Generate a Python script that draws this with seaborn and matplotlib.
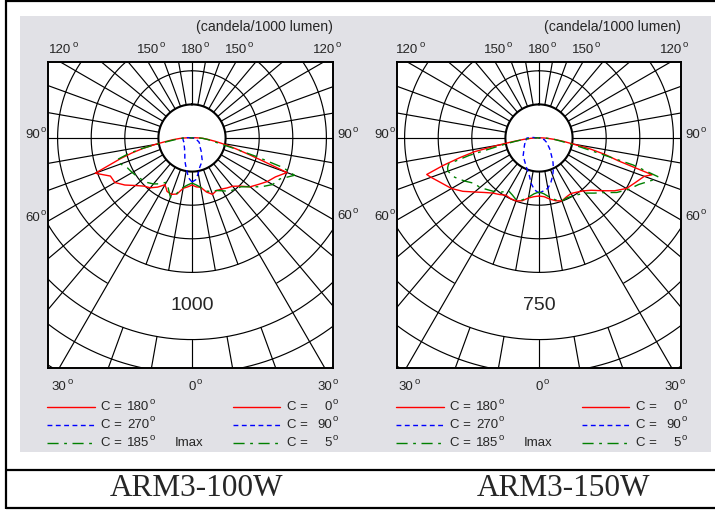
import numpy as np
import pandas as pd
import matplotlib
matplotlib.use("Agg")
import matplotlib.pyplot as plt
import seaborn as sns

# ---------------- data (candela / 1000 lumen) ----------------
gamma = [0, 5, 10, 15, 20, 25, 30, 35, 40, 45, 50, 55, 60, 65, 70,
         72, 74, 76, 78, 80, 82, 85, 88, 90, 95, 180]

# ARM3-100W
c180_100 = [280, 292, 304, 345, 357, 351, 321, 357, 387, 405, 440, 488, 530, 536, 613,
            512, 440, 369, 298, 226, 167, 113, 71, 48, 18, 0]
c0_100 = [280, 292, 298, 333, 357, 345, 351, 363, 375, 405, 452, 482, 518, 548, 601,
          446, 345, 274, 220, 173, 137, 95, 65, 48, 18, 0]
c185_100 = [268, 280, 298, 339, 375, 333, 304, 333, 357, 375, 387, 399, 411, 423, 452,
            464, 458, 393, 310, 214, 143, 95, 65, 42, 18, 0]
c5_100 = [268, 280, 298, 327, 339, 345, 363, 387, 399, 411, 452, 506, 554, 577, 649,
          571, 393, 262, 179, 143, 119, 89, 65, 42, 18, 0]
c270_100 = [262, 238, 190, 155, 125, 101, 89, 77, 71, 65, 60, 54, 54, 54, 54,
            54, 54, 54, 54, 54, 54, 54, 54, 54, 24, 0]
c90_100 = [262, 250, 214, 179, 161, 143, 113, 95, 77, 65, 60, 54, 48, 36, 30,
           24, 24, 18, 18, 18, 12, 12, 12, 12, 6, 0]

# ARM3-150W
c180_150 = [259, 263, 272, 290, 299, 299, 295, 308, 321, 344, 375, 415, 451, 478, 513,
            527, 446, 366, 295, 187, 121, 67, 36, 22, 9, 0]
c0_150 = [259, 263, 277, 290, 299, 290, 286, 295, 308, 330, 366, 411, 451, 473, 500,
          531, 366, 304, 232, 152, 112, 67, 36, 22, 9, 0]
c185_150 = [241, 250, 268, 286, 295, 281, 272, 295, 312, 326, 344, 353, 384, 415, 433,
            429, 420, 321, 205, 147, 107, 67, 36, 22, 9, 0]
c5_150 = [241, 250, 268, 286, 299, 295, 299, 308, 321, 348, 379, 424, 460, 491, 545,
          558, 437, 259, 179, 125, 98, 67, 36, 22, 9, 0]
c270_150 = [246, 232, 205, 170, 152, 138, 125, 116, 112, 98, 89, 80, 76, 71, 67,
            67, 67, 62, 62, 62, 58, 58, 54, 54, 27, 0]
c90_150 = [246, 237, 228, 205, 179, 152, 125, 98, 80, 67, 54, 49, 40, 31, 27,
           22, 22, 18, 18, 18, 13, 13, 13, 13, 4, 0]

scale_labels = ["1000", "750"]          # value of the 5th circle
titles = ["ARM3-100W", "ARM3-150W"]
top_angles = [120, 150, 180]
side_angles = [90, 60]
bottom_angles = [30, 0]
legend_left = [("180", "solid"), ("270", "blue"), ("185", "green")]
legend_right = [("0", "solid"), ("90", "blue"), ("5", "green")]

# ---------------- style ----------------
sns.set_style("white")
plt.rcParams['font.family'] = ['Liberation Sans', 'DejaVu Sans']
GRAY = '#E1E1E6'
RED, BLUE, GREEN = '#FF0000', '#0000FF', '#008000'
STY = {"solid": dict(color=RED, linestyle='-'),
       "blue": dict(color=BLUE, linestyle=(0, (3.5, 2.5))),
       "green": dict(color=GREEN, linestyle=(0, (8, 4, 2, 4)))}
FS = 9.5

W, H = 715, 513
PX = 33.6   # pixels per circle step
fig = plt.figure(figsize=(W / 100, H / 100), dpi=100)

bg = fig.add_axes([0, 0, 1, 1])
bg.set_xlim(0, W)
bg.set_ylim(H, 0)
bg.axis('off')
bg.add_patch(plt.Rectangle((20, 16), 691, 436, facecolor=GRAY, edgecolor='none'))
for xs, ys in [([6, 6], [0, 509]), ([6, W], [1, 1]), ([6, W], [470, 470]), ([6, W], [508, 508])]:
    bg.plot(xs, ys, color='k', lw=1.6, solid_capstyle='butt')


def deg(ax, x, y, num, align, dx=0.0, dy=0.0, fs=FS):
    w = len(num) * 0.556 * fs
    ow = 0.556 * fs * 0.7 + 0.8
    if align == 'center':
        left = dx - w / 2
    elif align == 'right':
        left = dx - w - ow
    elif align == 'numright':
        left = dx - w
    else:
        left = dx
    ax.annotate(num, (x, y), xytext=(left, dy), textcoords='offset points',
                ha='left', va='center', fontsize=fs, annotation_clip=False)
    ax.annotate('o', (x, y), xytext=(left + w + 0.6, dy + 4.0), textcoords='offset points',
                ha='left', va='center', fontsize=fs * 0.72, annotation_clip=False)


def panel(frame, center, series, label, title, title_x):
    x0, y0, x1, y1 = frame
    cx, cy = center
    ax = fig.add_axes([x0 / W, 1 - y1 / H, (x1 - x0) / W, (y1 - y0) / H])
    ax.set_facecolor('white')
    xl = ((x0 - cx) / PX, (x1 - cx) / PX)
    yl = ((cy - y1) / PX, (cy - y0) / PX)

    # circles
    g = np.radians(np.linspace(-180, 180, 1441))
    for k in range(1, 10):
        xs = k * np.sin(g)
        ys = -k * np.cos(g)
        if k == 5:
            m = np.abs(np.degrees(g)) < 30
            xs = np.where(m, np.nan, xs)
            ys = np.where(m, np.nan, ys)
        ax.plot(xs, ys, color='k', lw=1.5 if k == 1 else 0.85, zorder=2)
    # radial lines
    for a in range(-180, 180, 10):
        ar = np.radians(a)
        segs = [(1, 12)] if abs(a) > 25 else [(1, 4), (6, 12)]
        for r0, r1 in segs:
            ax.plot([r0 * np.sin(ar), r1 * np.sin(ar)], [-r0 * np.cos(ar), -r1 * np.cos(ar)],
                    color='k', lw=0.85, zorder=2)

    step = float(label) / 5.0
    gr = np.radians(gamma)
    for vals, side, sty in series:
        r = np.asarray(vals) / step
        df = pd.DataFrame({"x": side * r * np.sin(gr), "y": -r * np.cos(gr)})
        sns.lineplot(data=df, x="x", y="y", sort=False, estimator=None, ax=ax,
                     lw=1.0, zorder=4, **STY[sty])

    ax.text(0, -5, label, ha='center', va='center', fontsize=14, zorder=5)

    ax.set_xlim(*xl)
    ax.set_ylim(*yl)
    ax.set_xticks([])
    ax.set_yticks([])
    ax.set_xlabel('')
    ax.set_ylabel('')
    for sp in ax.spines.values():
        sp.set_visible(True)
        sp.set_color('k')
        sp.set_linewidth(1.4)

    # angle labels
    for a in top_angles:
        ar = np.radians(a)
        t = yl[1] / (-np.cos(ar))
        for s in ([1] if a == 180 else [-1, 1]):
            deg(ax, s * t * np.sin(ar), yl[1], str(a), 'center', dy=8.8)
    for a in side_angles:
        ar = np.radians(a)
        for s, xe in ((-1, xl[0]), (1, xl[1])):
            t = abs(xe) / np.sin(ar)
            y = -t * np.cos(ar)
            if s < 0:
                deg(ax, xe, y, str(a), 'right', dx=-1.5, dy=2.2)
            else:
                deg(ax, xe, y, str(a), 'left', dx=2.8, dy=2.2)
    for a in bottom_angles:
        ar = np.radians(a)
        t = yl[0] / (-np.cos(ar))
        for s in ([1] if a == 0 else [-1, 1]):
            deg(ax, s * t * np.sin(ar), yl[0], str(a), 'center', dy=-13.5)

    # header + legend (figure pixel coordinates)
    bg.text(x1, 27, "(candela/1000 lumen)", ha='right', va='center', fontsize=10.2)
    rows_t = [407, 424.5, 443]
    rows_l = [406.5, 425, 443]
    for (num, sty), yt, yline in zip(legend_left, rows_t, rows_l):
        bg.plot([x0 - 1, x0 + 47], [yline, yline], lw=1.0, **STY[sty])
        bg.text(x0 + 53, yt, "C =", ha='left', va='center', fontsize=FS)
        deg(bg, x0 + 101, yt, num, 'numright')
    bg.text(x0 + 127, rows_t[2], "Imax", ha='left', va='center', fontsize=FS)
    for (num, sty), yt, yline in zip(legend_right, rows_t, rows_l):
        bg.plot([x0 + 185, x0 + 232], [yline, yline], lw=1.0, **STY[sty])
        bg.text(x0 + 239, yt, "C =", ha='left', va='center', fontsize=FS)
        deg(bg, x0 + 284, yt, num, 'numright')

    bg.text(title_x, 489, title, ha='center', va='center', fontsize=22.5,
            family=['Liberation Serif', 'DejaVu Serif'])


panel((48, 62, 333, 368), (192, 138),
      [(c180_100, -1, "solid"), (c0_100, 1, "solid"),
       (c270_100, -1, "blue"), (c90_100, 1, "blue"),
       (c185_100, -1, "green"), (c5_100, 1, "green")],
      scale_labels[0], titles[0], 197)
panel((397, 62, 681, 368), (539, 138),
      [(c180_150, -1, "solid"), (c0_150, 1, "solid"),
       (c270_150, -1, "blue"), (c90_150, 1, "blue"),
       (c185_150, -1, "green"), (c5_150, 1, "green")],
      scale_labels[1], titles[1], 564)

fig.savefig("out.png", dpi=100)
